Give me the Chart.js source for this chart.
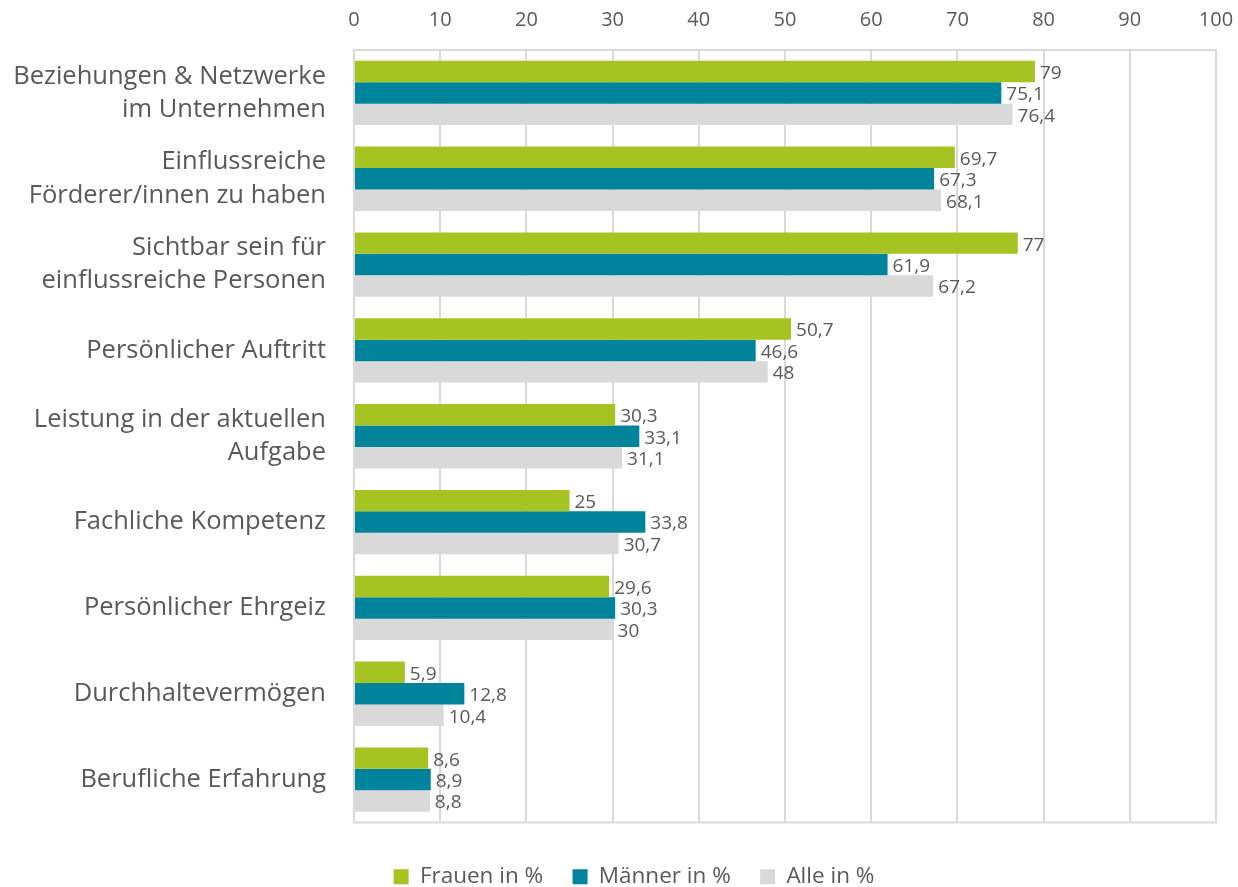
<!DOCTYPE html>
<html><head><meta charset="utf-8">
<script src="https://cdn.jsdelivr.net/npm/chart.js@4/dist/chart.umd.min.js"></script>
<style>html,body{margin:0;padding:0;background:#fff}#w{width:1238px;height:887px}</style>
</head><body><div id="w"><canvas id="c"></canvas></div>
<script>
const categories = [
  ["Beziehungen & Netzwerke","im Unternehmen"],
  ["Einflussreiche","Förderer/innen zu haben"],
  ["Sichtbar sein für","einflussreiche Personen"],
  "Persönlicher Auftritt",
  ["Leistung in der aktuellen","Aufgabe"],
  "Fachliche Kompetenz",
  "Persönlicher Ehrgeiz",
  "Durchhaltevermögen",
  "Berufliche Erfahrung"
];
const frauen = [79, 69.7, 77, 50.7, 30.3, 25, 29.6, 5.9, 8.6];
const maenner = [75.1, 67.3, 61.9, 46.6, 33.1, 33.8, 30.3, 12.8, 8.9];
const alle = [76.4, 68.1, 67.2, 48, 31.1, 30.7, 30, 10.4, 8.8];
const seriesNames = ["Frauen in %", "Männer in %", "Alle in %"];
const FONT = "'Open Sans', sans-serif";
const TXT = "#595959";

const valueLabels = {
  id: 'valueLabels',
  afterDatasetsDraw(chart) {
    const ctx = chart.ctx;
    ctx.save();
    ctx.font = "19px " + FONT;
    ctx.fillStyle = TXT;
    ctx.textBaseline = 'middle';
    ctx.textAlign = 'left';
    chart.data.datasets.forEach((ds, i) => {
      chart.getDatasetMeta(i).data.forEach((el, j) => {
        const v = ds.data[j];
        ctx.fillText(String(v).replace('.', ','), el.x + 5, el.y + 2);
      });
    });
    ctx.restore();
  }
};
const frame = {
  id: 'frame',
  beforeDatasetsDraw(chart) {
    const a = chart.chartArea, ctx = chart.ctx;
    ctx.save();
    ctx.strokeStyle = "#D9D9D9";
    ctx.lineWidth = 2;
    ctx.strokeRect(a.left, a.top, a.right - a.left, a.bottom - a.top);
    ctx.restore();
  }
};
const legendShift = {
  id: 'legendShift',
  afterLayout(chart) {
    if (chart.legend) { chart.legend.left += 26; chart.legend.right += 26; }
  }
};

function build() {
new Chart(document.getElementById('c'), {
  type: 'bar',
  data: {
    labels: categories,
    datasets: [
      {label: seriesNames[0], data: frauen, backgroundColor: '#A5C422'},
      {label: seriesNames[1], data: maenner, backgroundColor: '#00849C'},
      {label: seriesNames[2], data: alle, backgroundColor: '#D9D9D9'}
    ]
  },
  options: {
    indexAxis: 'y',
    responsive: true,
    maintainAspectRatio: false,
    animation: false,
    layout: {padding: {left: 0, right: 22, top: 0, bottom: -11}},
    datasets: {bar: {categoryPercentage: 0.75, barPercentage: 1.0}},
    scales: {
      x: {
        position: 'top', min: 0, max: 100,
        afterFit(scale) { scale.paddingLeft = 0; scale.paddingRight = 0; scale.height = 50; },
        ticks: {stepSize: 10, color: TXT, font: {family: FONT, size: 20}, padding: 18},
        grid: {color: '#D9D9D9', lineWidth: 2, drawTicks: false},
        border: {display: false}
      },
      y: {
        afterFit(scale) { scale.width = 354; },
        ticks: {color: TXT, font: {family: FONT, size: 25.5, lineHeight: 1.3}, padding: 28},
        grid: {display: false, drawTicks: false},
        border: {display: true, color: '#D9D9D9', width: 2}
      }
    },
    plugins: {
      legend: {
        position: 'bottom',
        title: {display: true, text: '', font: {size: 10}, padding: {top: 25, bottom: 0}},
        labels: {
          color: TXT, font: {family: FONT, size: 22.5}, boxWidth: 15, boxHeight: 15, padding: 6,
          generateLabels(chart) {
            const items = Chart.defaults.plugins.legend.labels.generateLabels(chart);
            items.forEach((it, k) => { if (k < items.length - 1) it.text = it.text + '    '; });
            return items;
          }
        }
      },
      tooltip: {enabled: false}
    }
  },
  plugins: [frame, valueLabels, legendShift]
});
}
Promise.all([
  document.fonts.load("25.5px 'Open Sans'"),
  document.fonts.load("20px 'Open Sans'")
]).then(build, build);
</script></body></html>
